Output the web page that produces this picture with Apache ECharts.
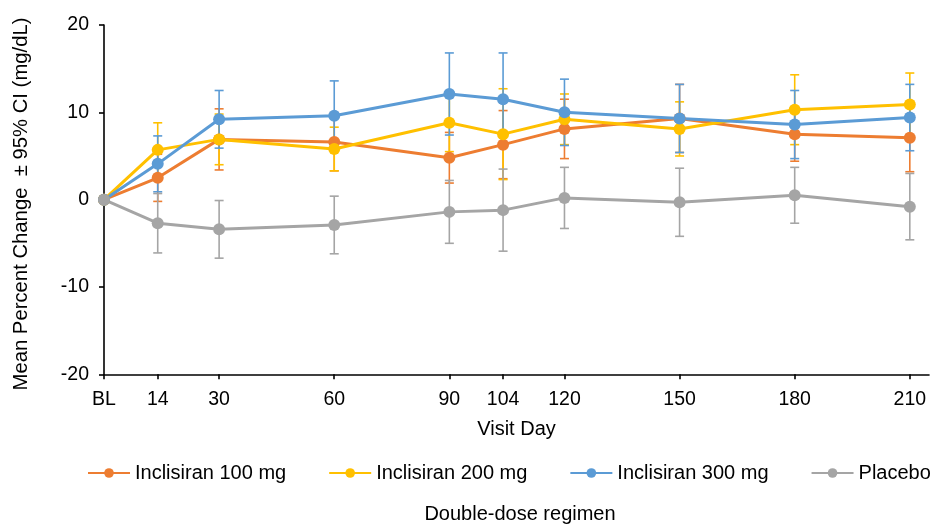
<!DOCTYPE html>
<html>
<head>
<meta charset="utf-8">
<script src="https://cdn.jsdelivr.net/npm/echarts@6/dist/echarts.min.js"></script>
<style>
html,body{margin:0;padding:0;background:#fff;}
#chart{width:930px;height:527px;}
</style>
</head>
<body>
<div id="chart"></div>
<script>
// Visit days (BL = 0) and tick labels
const days = [0, 14, 30, 60, 90, 104, 120, 150, 180, 210];
const dayLabels = ['BL', '14', '30', '60', '90', '104', '120', '150', '180', '210'];
const yTicks = [-20, -10, 0, 10, 20];

// Series names
const names = ['Inclisiran 100 mg', 'Inclisiran 200 mg', 'Inclisiran 300 mg', 'Placebo'];

// Mean percent change
const mean100 = [0, 2.5, 6.9, 6.6, 4.8, 6.3, 8.1, 9.3, 7.5, 7.1];
const mean200 = [0, 5.7, 6.9, 5.8, 8.8, 7.5, 9.2, 8.1, 10.3, 10.9];
const mean300 = [0, 4.1, 9.2, 9.6, 12.1, 11.5, 10.0, 9.3, 8.6, 9.4];
const meanPbo = [0, -2.7, -3.4, -2.9, -1.4, -1.2, 0.2, -0.3, 0.5, -0.8];

// 95% CI half-widths
const ci100 = [0, 2.7, 3.5, 3.3, 2.9, 3.9, 3.4, 3.9, 3.1, 3.9];
const ci200 = [0, 3.1, 2.9, 2.5, 3.3, 5.2, 2.9, 3.1, 4.0, 3.6];
const ci300 = [0, 3.2, 3.3, 4.0, 4.7, 5.3, 3.8, 3.9, 3.9, 3.8];
const ciPbo = [0, 3.4, 3.3, 3.3, 3.6, 4.7, 3.5, 3.9, 3.2, 3.8];

const colors = ['#ED7D31', '#FFC000', '#5B9BD5', '#A5A5A5'];
const means = [mean100, mean200, mean300, meanPbo];
const cis = [ci100, ci200, ci300, ciPbo];

const FONT = '"Liberation Sans", Arial, sans-serif';

function errorSeries(k) {
  const data = days.map((d, i) => [d, means[k][i] - cis[k][i], means[k][i] + cis[k][i], cis[k][i]]);
  return {
    type: 'custom',
    name: names[k] + ' CI',
    z: 1,
    silent: true,
    data: data,
    renderItem: function (params, api) {
      if (api.value(3) === 0) return null;
      const top = api.coord([api.value(0), api.value(2)]);
      const bot = api.coord([api.value(0), api.value(1)]);
      const w = 4.5;
      const st = { stroke: colors[k], lineWidth: 1.6 };
      return {
        type: 'group',
        children: [
          { type: 'line', shape: { x1: top[0], y1: top[1], x2: bot[0], y2: bot[1] }, style: st },
          { type: 'line', shape: { x1: top[0] - w, y1: top[1], x2: top[0] + w, y2: top[1] }, style: st },
          { type: 'line', shape: { x1: bot[0] - w, y1: bot[1], x2: bot[0] + w, y2: bot[1] }, style: st }
        ]
      };
    }
  };
}

function lineSeries(k) {
  return {
    type: 'line',
    name: names[k],
    z: 2,
    data: days.map((d, i) => [d, means[k][i]]),
    symbol: 'circle',
    symbolSize: 12,
    lineStyle: { color: colors[k], width: 3 },
    itemStyle: { color: colors[k] },
    emphasis: { disabled: true }
  };
}

const series = [];
for (let k = 0; k < 4; k++) series.push(errorSeries(k));
for (let k = 0; k < 4; k++) series.push(lineSeries(k));

const chart = echarts.init(document.getElementById('chart'), null, { renderer: 'canvas' });
chart.setOption({
  animation: false,
  backgroundColor: '#fff',
  textStyle: { fontFamily: FONT, color: '#000' },
  grid: { left: 104, top: 25, width: 825, height: 349.3, outerBoundsMode: 'none', containLabel: false },
  title: {
    text: 'Double-dose regimen',
    left: 515, textAlign: 'center',
    top: 499,
    textStyle: { fontFamily: FONT, fontSize: 20, fontWeight: 'normal', color: '#000' }
  },
  graphic: [{
    type: 'text',
    x: 21, y: 204,
    rotation: Math.PI / 2,
    style: {
      text: 'Mean Percent Change  \u00b1 95% CI (mg/dL)',
      font: '20.3px "Liberation Sans", Arial, sans-serif',
      fill: '#000',
      align: 'center',
      verticalAlign: 'middle'
    }
  }],
  legend: {
    data: names,
    left: 87, top: 463, width: 900, padding: 0,
    itemWidth: 42, itemHeight: 12, itemGap: 42,
    textStyle: { fontFamily: FONT, fontSize: 20, color: '#000' }
  },
  xAxis: {
    type: 'value',
    min: 0, max: 215,
    name: 'Visit Day',
    nameLocation: 'middle',
    nameGap: 45,
    nameTextStyle: { fontFamily: FONT, fontSize: 20, color: '#000' },
    axisLine: { onZero: false, lineStyle: { color: '#000', width: 1.6 } },
    axisTick: { show: true, inside: false, length: 5, customValues: days, lineStyle: { color: '#000', width: 1.6 } },
    axisLabel: {
      customValues: days,
      margin: 15,
      fontFamily: FONT, fontSize: 19.5, color: '#000',
      formatter: function (v) { const i = days.indexOf(v); return i >= 0 ? dayLabels[i] : ''; }
    },
    splitLine: { show: false }
  },
  yAxis: {
    type: 'value',
    min: -20, max: 20, interval: 10,
    axisLine: { show: true, onZero: false, lineStyle: { color: '#000', width: 1.6 } },
    axisTick: { show: true, inside: false, length: 5, lineStyle: { color: '#000', width: 1.6 } },
    axisLabel: { margin: 15, fontFamily: FONT, fontSize: 19.5, color: '#000',
      formatter: function (v) { return yTicks.indexOf(v) >= 0 ? String(v) : ''; } },
    splitLine: { show: false }
  },
  series: series
});
</script>
</body>
</html>
